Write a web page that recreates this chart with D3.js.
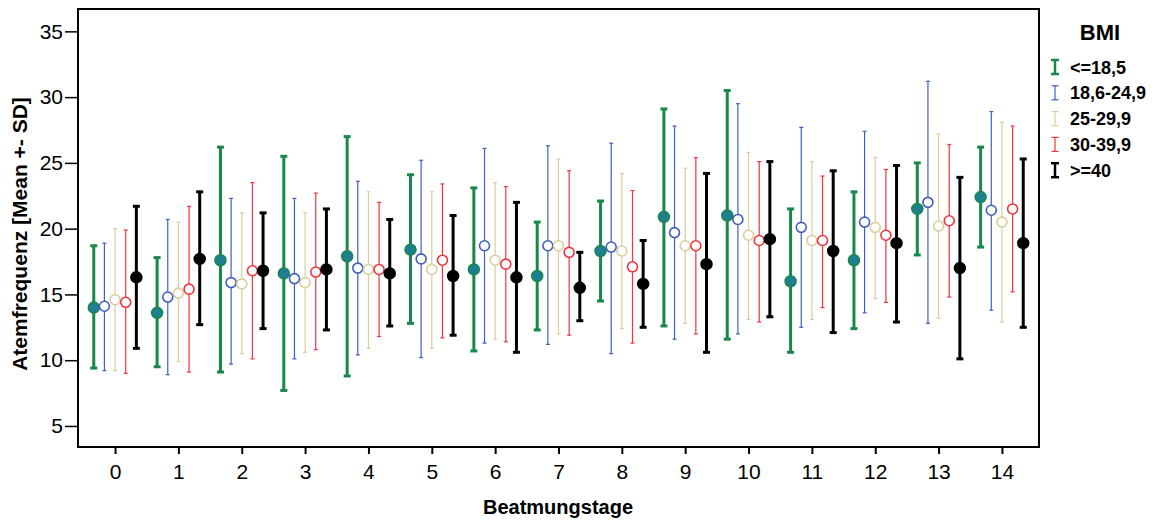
<!DOCTYPE html>
<html>
<head>
<meta charset="utf-8">
<script src="https://cdn.jsdelivr.net/npm/d3@7"></script>
<style>
  body { margin: 0; background: #fff; }
  svg { font-family: "Liberation Sans", Arial, sans-serif; }
</style>
</head>
<body>
<div id="chart"></div>
<script>
const days = d3.range(0, 15);
const groups = ['<=18,5', '18,6-24,9', '25-29,9', '30-39,9', '>=40'];
const yTicks = [5, 10, 15, 20, 25, 30, 35];

// mean, lower (mean - SD), upper (mean + SD) per BMI group, one value per day
const means = [
  [14.0, 13.6, 17.6, 16.6, 17.9, 18.4, 16.9, 16.4, 18.3, 20.9, 21.0, 16.0, 17.6, 21.5, 22.4],
  [14.1, 14.8, 15.9, 16.2, 17.0, 17.7, 18.7, 18.7, 18.6, 19.7, 20.7, 20.1, 20.5, 22.0, 21.4],
  [14.6, 15.1, 15.8, 15.9, 16.9, 16.9, 17.6, 18.7, 18.3, 18.7, 19.5, 19.1, 20.1, 20.2, 20.5],
  [14.4, 15.4, 16.8, 16.7, 16.9, 17.6, 17.3, 18.2, 17.1, 18.7, 19.1, 19.1, 19.5, 20.6, 21.5],
  [16.3, 17.7, 16.8, 16.9, 16.6, 16.4, 16.3, 15.5, 15.8, 17.3, 19.2, 18.3, 18.9, 17.0, 18.9]
];
const lows = [
  [9.4, 9.5, 9.1, 7.7, 8.8, 12.8, 10.7, 12.3, 14.5, 12.6, 11.6, 10.6, 12.4, 18.0, 18.6],
  [9.2, 8.9, 9.7, 10.1, 10.4, 10.2, 11.3, 11.2, 10.5, 11.6, 12.0, 12.5, 13.6, 12.8, 13.8],
  [9.2, 9.9, 10.5, 10.6, 10.9, 10.9, 11.6, 12.0, 12.4, 12.8, 13.1, 13.1, 14.7, 13.2, 12.9],
  [9.0, 9.1, 10.1, 10.8, 11.8, 11.7, 11.4, 11.9, 11.3, 12.0, 12.9, 14.0, 14.4, 14.8, 15.2],
  [10.9, 12.7, 12.4, 12.3, 12.6, 11.9, 10.6, 13.0, 12.5, 10.6, 13.3, 12.1, 12.9, 10.1, 12.5]
];
const highs = [
  [18.7, 17.8, 26.2, 25.5, 27.0, 24.1, 23.1, 20.5, 22.1, 29.1, 30.5, 21.5, 22.8, 25.0, 26.2],
  [18.9, 20.7, 22.3, 22.3, 23.6, 25.2, 26.1, 26.3, 26.5, 27.8, 29.5, 27.7, 27.4, 31.2, 28.9],
  [20.0, 20.5, 21.2, 21.2, 22.8, 22.8, 23.5, 25.3, 24.2, 24.6, 25.8, 25.1, 25.4, 27.2, 28.1],
  [19.9, 21.7, 23.5, 22.7, 22.0, 23.4, 23.2, 24.4, 22.9, 25.4, 25.1, 24.0, 24.5, 26.4, 27.8],
  [21.7, 22.8, 21.2, 21.5, 20.7, 21.0, 22.0, 18.2, 19.1, 24.2, 25.1, 24.4, 24.8, 23.9, 25.3]
];

const styles = [
  { color: '#17874a', fill: '#1e7f90', width: 3, cap: 7, filled: true },
  { color: '#3f5fbf', fill: 'none', width: 1.2, cap: 4, filled: false },
  { color: '#d8cf9c', fill: 'none', width: 1.2, cap: 4, filled: false },
  { color: '#f2333d', fill: 'none', width: 1.2, cap: 4, filled: false },
  { color: '#000000', fill: '#000000', width: 3, cap: 7, filled: true }
];

const W = 1164, H = 520;
const plot = { left: 78, right: 1039, top: 9, bottom: 447 };

const svg = d3.select('#chart').append('svg').attr('width', W).attr('height', H);

const x = d3.scalePoint().domain(days).range([plot.left, plot.right]).padding(0.585);
const y = d3.scaleLinear().domain([3.4, 36.7]).range([plot.bottom, plot.top]);
const off = d3.scalePoint().domain(d3.range(groups.length)).range([-21.3, 21.3]);

// frame
svg.append('rect').attr('x', plot.left).attr('y', plot.top)
  .attr('width', plot.right - plot.left).attr('height', plot.bottom - plot.top)
  .attr('fill', 'none').attr('stroke', '#000').attr('stroke-width', 2);

const yAxis = svg.append('g').attr('transform', `translate(${plot.left},0)`)
  .call(d3.axisLeft(y).tickValues(yTicks).tickSize(13).tickPadding(2));
yAxis.select('.domain').remove();
yAxis.selectAll('line').attr('stroke-width', 1.5);
yAxis.selectAll('text').style('font-size', '21px').attr('fill', '#000');

const xAxis = svg.append('g').attr('transform', `translate(0,${plot.bottom})`)
  .call(d3.axisBottom(x).tickSize(7).tickPadding(10));
xAxis.select('.domain').remove();
xAxis.selectAll('line').attr('stroke-width', 2);
xAxis.selectAll('text').style('font-size', '21px').attr('fill', '#000');

// error bars + means
groups.forEach((g, i) => {
  const s = styles[i];
  const layer = svg.append('g');
  days.forEach((d, j) => {
    const cx = x(d) + off(i);
    layer.append('line').attr('x1', cx).attr('x2', cx)
      .attr('y1', y(lows[i][j])).attr('y2', y(highs[i][j]))
      .attr('stroke', s.color).attr('stroke-width', s.width);
    [lows[i][j], highs[i][j]].forEach(v => {
      layer.append('line').attr('x1', cx - s.cap / 2).attr('x2', cx + s.cap / 2)
        .attr('y1', y(v)).attr('y2', y(v))
        .attr('stroke', s.color).attr('stroke-width', s.width);
    });
    layer.append('circle').attr('cx', cx).attr('cy', y(means[i][j]))
      .attr('r', s.filled ? 5.5 : 5)
      .attr('fill', s.filled ? s.fill : '#fff')
      .attr('stroke', s.color).attr('stroke-width', s.filled ? 1.5 : 1.6);
  });
});

// axis titles
svg.append('text').attr('transform', 'translate(27,234) rotate(-90)')
  .attr('text-anchor', 'middle').style('font-size', '21px').style('font-weight', 'bold')
  .text('Atemfrequenz [Mean +- SD]');
svg.append('text').attr('x', 558).attr('y', 514)
  .attr('text-anchor', 'middle').style('font-size', '20px').style('font-weight', 'bold')
  .text('Beatmungstage');

// legend
const legend = svg.append('g');
legend.append('text').attr('x', 1100).attr('y', 40).attr('text-anchor', 'middle')
  .style('font-size', '22px').style('font-weight', 'bold').text('BMI');
groups.forEach((g, i) => {
  const s = styles[i];
  const ly = 67 + i * 25.8;
  const lx = 1055;
  const thick = s.width === 3;
  const row = legend.append('g');
  row.append('line').attr('x1', lx).attr('x2', lx).attr('y1', ly - 7).attr('y2', ly + 7)
    .attr('stroke', s.color).attr('stroke-width', thick ? 2.5 : 1.2);
  [ly - 7, ly + 7].forEach(v => row.append('line')
    .attr('x1', lx - (thick ? 4 : 3.5)).attr('x2', lx + (thick ? 4 : 3.5))
    .attr('y1', v).attr('y2', v).attr('stroke', s.color).attr('stroke-width', thick ? 2.5 : 1.2));
  row.append('text').attr('x', 1070).attr('y', ly + 6.5)
    .style('font-size', '18px').style('font-weight', 'bold').text(g);
});
</script>
</body>
</html>
